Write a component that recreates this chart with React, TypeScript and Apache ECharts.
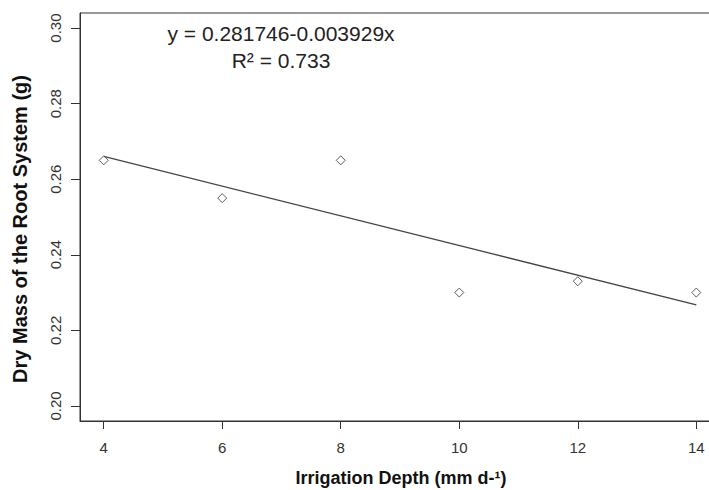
import React, { useEffect, useRef } from "react";
import * as echarts from "echarts";

const xValues = [4, 6, 8, 10, 12, 14];
const yValues = [0.265, 0.255, 0.265, 0.23, 0.233, 0.23];
const xTicks = [4, 6, 8, 10, 12, 14];
const yTicks = [0.2, 0.22, 0.24, 0.26, 0.28, 0.3];
const intercept = 0.281746;
const slope = -0.003929;
const fitRange = [4, 14];
const equationText = "y = 0.281746-0.003929x";
const r2Text = "R² = 0.733";
const xTitle = "Irrigation Depth (mm d-¹)";
const yTitle = "Dry Mass of the Root System (g)";

const FONT = "'Liberation Sans', Arial, sans-serif";

export default function App() {
  const ref = useRef<HTMLDivElement>(null);
  useEffect(() => {
    if (!ref.current) return;
    const chart = echarts.init(ref.current, null, { renderer: "svg" });
    const points = xValues.map((x, i) => [x, yValues[i]]);
    const fitLine = fitRange.map((x) => [x, intercept + slope * x]);
    chart.setOption({
      animation: false,
      backgroundColor: "#ffffff",
      grid: {
        show: true,
        left: 80,
        top: 13,
        width: 640,
        height: 408,
        borderColor: "#333",
        borderWidth: 1,
        backgroundColor: "transparent",
      },
      xAxis: {
        type: "value",
        min: 3.6,
        max: 14.4,
        axisLine: { show: true, lineStyle: { color: "#333", width: 1 } },
        axisTick: {
          show: true,
          inside: false,
          length: 8,
          customValues: xTicks,
          lineStyle: { color: "#333", width: 1 },
        },
        axisLabel: {
          customValues: xTicks,
          formatter: (v: number) => String(v),
          fontSize: 15,
          fontFamily: FONT,
          color: "#333",
          margin: 19,
        },
        splitLine: { show: false },
      },
      yAxis: {
        type: "value",
        min: 0.196,
        max: 0.304,
        axisLine: { show: true, lineStyle: { color: "#333", width: 1 } },
        axisTick: {
          show: true,
          inside: false,
          length: 9,
          customValues: yTicks,
          lineStyle: { color: "#333", width: 1 },
        },
        axisLabel: {
          customValues: yTicks,
          formatter: (v: number) => v.toFixed(2),
          rotate: 90,
          fontSize: 15,
          fontFamily: FONT,
          color: "#333",
          margin: 17,
        },
        splitLine: { show: false },
      },
      series: [
        {
          type: "line",
          data: fitLine,
          showSymbol: false,
          symbol: "none",
          lineStyle: { color: "#444", width: 1.3 },
          z: 2,
        },
        {
          type: "scatter",
          data: points,
          symbol: "diamond",
          symbolSize: 9,
          itemStyle: { color: "#ffffff", borderColor: "#333", borderWidth: 1 },
          z: 3,
        },
      ],
      graphic: [
        {
          type: "text",
          x: 281,
          y: 33,
          style: {
            text: equationText,
            font: `21px ${FONT}`,
            fill: "#222",
            textAlign: "center",
            textVerticalAlign: "middle",
          },
        },
        {
          type: "text",
          x: 281,
          y: 60,
          style: {
            text: r2Text,
            font: `21px ${FONT}`,
            fill: "#222",
            textAlign: "center",
            textVerticalAlign: "middle",
          },
        },
        {
          type: "text",
          x: 401,
          y: 478,
          style: {
            text: xTitle,
            font: `bold 18px ${FONT}`,
            fill: "#111",
            textAlign: "center",
            textVerticalAlign: "middle",
          },
        },
        {
          type: "text",
          x: 20,
          y: 229,
          rotation: Math.PI / 2,
          style: {
            text: yTitle,
            font: `bold 20px ${FONT}`,
            fill: "#111",
            textAlign: "center",
            textVerticalAlign: "middle",
          },
        },
      ],
    });
    return () => chart.dispose();
  }, []);
  return (
    <div
      style={{
        position: "absolute",
        left: 0,
        top: 0,
        width: 709,
        height: 490,
        overflow: "hidden",
        background: "#fff",
      }}
    >
      <div ref={ref} style={{ width: 740, height: 490 }} />
    </div>
  );
}
